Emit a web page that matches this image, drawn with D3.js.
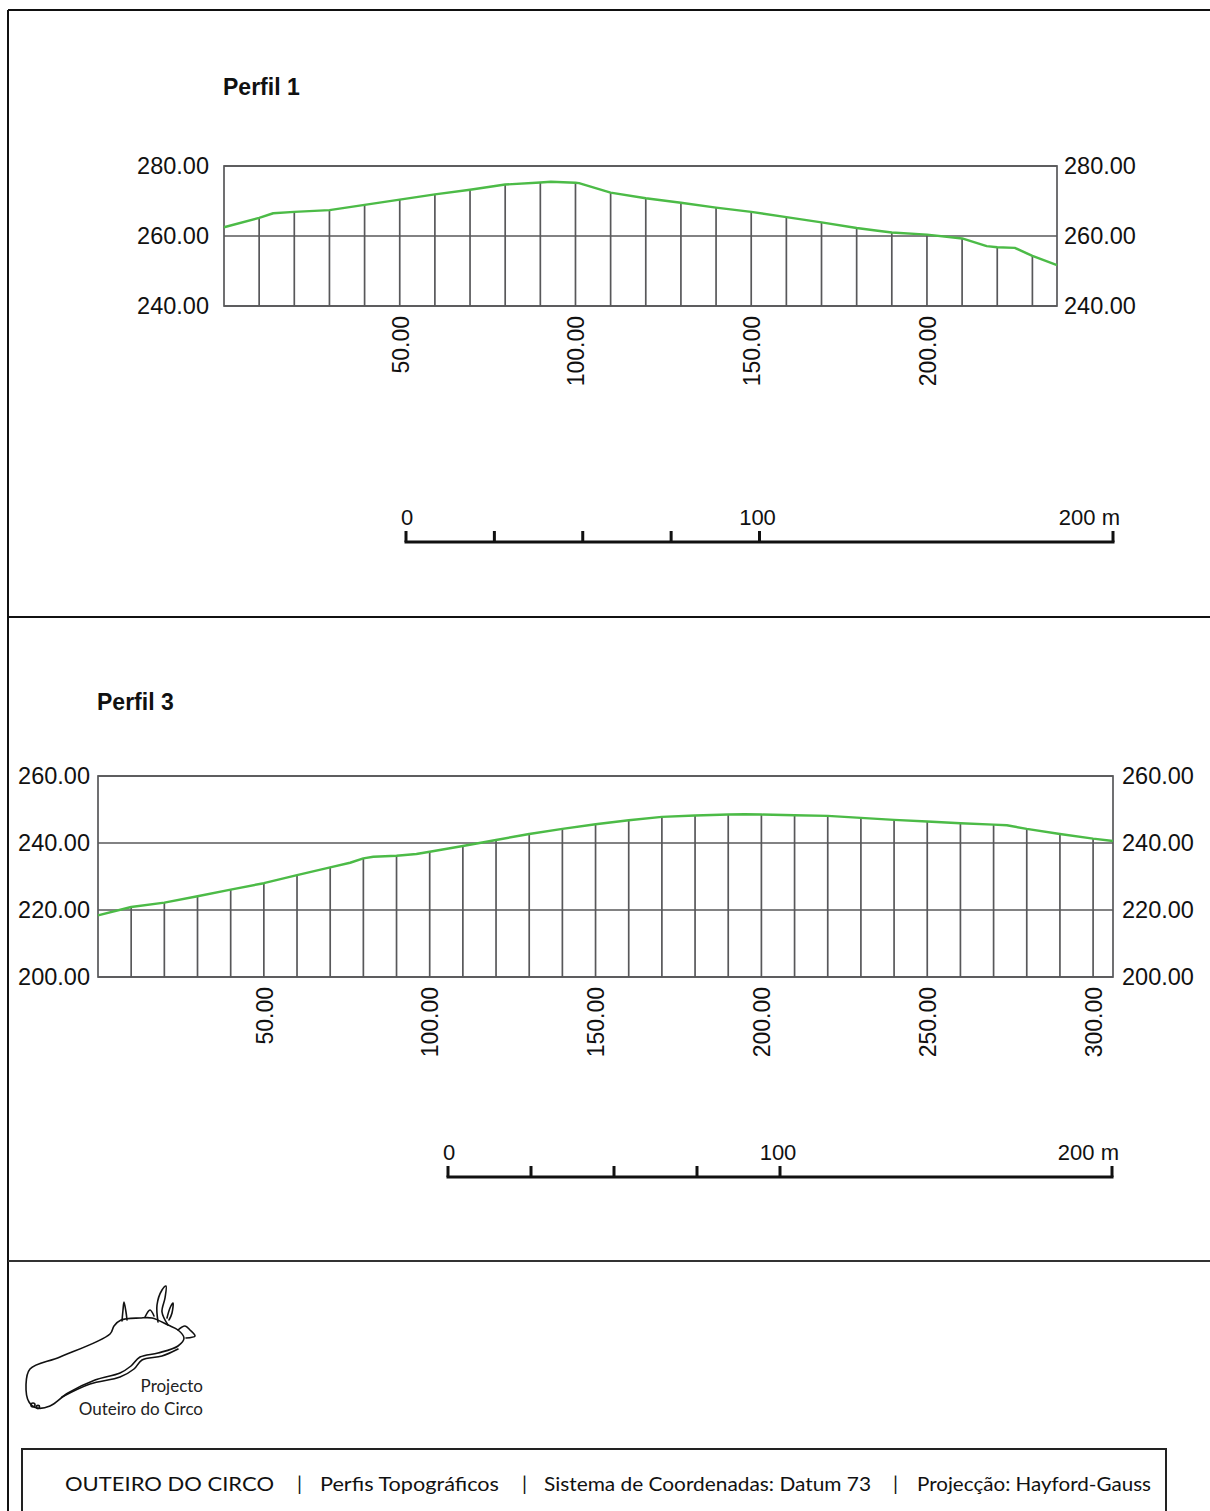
<!DOCTYPE html>
<html>
<head>
<meta charset="utf-8">
<script src="https://cdn.jsdelivr.net/npm/d3@7"></script>
<style>
  body { margin: 0; background: #fff; }
  svg { display: block; }
</style>
</head>
<body>
<div id="graphic"></div>
<script>
// Perfil 1: distance along profile (m) and elevation (m)
let p1Dist = [0, 10, 14, 20, 30, 40, 50, 60, 70, 80, 90, 93, 100, 101, 110, 120, 130, 140, 150, 160, 170, 180, 186, 190, 200, 210, 217, 220, 225, 230, 237];
let p1Elev = [262.5, 265.2, 266.5, 266.9, 267.4, 268.9, 270.4, 271.9, 273.2, 274.7, 275.3, 275.5, 275.2, 275.1, 272.4, 270.8, 269.5, 268.1, 266.9, 265.4, 263.9, 262.3, 261.5, 261.0, 260.4, 259.3, 257.1, 256.8, 256.6, 254.3, 251.7];
let p1YTicks = [240, 260, 280];
let p1XTicks = [50, 100, 150, 200];

// Perfil 3
let p3Dist = [0, 10, 20, 30, 40, 50, 60, 70, 76, 80, 83, 90, 96, 100, 110, 120, 130, 140, 150, 160, 170, 180, 190, 195, 200, 210, 220, 230, 240, 250, 260, 270, 274, 280, 290, 300, 306];
let p3Elev = [218.4, 220.9, 222.2, 224.1, 226.1, 228.0, 230.4, 232.7, 234.1, 235.4, 235.9, 236.2, 236.7, 237.4, 239.1, 240.9, 242.7, 244.2, 245.6, 246.8, 247.8, 248.2, 248.5, 248.6, 248.5, 248.3, 248.1, 247.5, 246.9, 246.4, 245.9, 245.5, 245.3, 244.2, 242.7, 241.3, 240.6];
let p3YTicks = [200, 220, 240, 260];
let p3XTicks = [50, 100, 150, 200, 250, 300];

// graphic scale bar (metres)
let barTicks = [0, 25, 50, 75, 100, 200];
let barLabels = [0, 100, 200];

let footerParts = ["OUTEIRO DO CIRCO", "|", "Perfis  Topográficos", "|", "Sistema de Coordenadas: Datum 73", "|", "Projecção: Hayford-Gauss"];

let svg = d3.select("#graphic")
  .append("svg")
    .attr("width", 1210)
    .attr("height", 1511);

let ink = "#111";
let gridCol = "#58585a";
let green = "#4cbb47";
let chartFont = "'Liberation Sans', Arial, Helvetica, sans-serif";
let humanFont = "Lato, 'Open Sans', sans-serif";

// page frame
let frame = svg.append("g").attr("stroke", ink).attr("stroke-width", 2);
frame.append("line").attr("x1", 8).attr("y1", 10).attr("x2", 8).attr("y2", 1511);
frame.append("line").attr("x1", 8).attr("y1", 10).attr("x2", 1210).attr("y2", 10);
frame.append("line").attr("x1", 8).attr("y1", 617).attr("x2", 1210).attr("y2", 617);
frame.append("line").attr("x1", 8).attr("y1", 1261).attr("x2", 1210).attr("y2", 1261).attr("stroke", "#333");

function drawProfile(o) {
  let maxD = d3.max(o.dist);
  let x = d3.scaleLinear().domain([0, maxD]).range([o.left, o.right]);
  let y = d3.scaleLinear().domain(d3.extent(o.yTicks)).range([o.bottom, o.top]);
  let data = o.dist.map((d, i) => ({d: d, e: o.elev[i]}));
  let g = svg.append("g");

  g.append("text")
    .attr("x", o.left - 1)
    .attr("y", o.titleY)
    .style("font", "bold 23px " + chartFont)
    .attr("fill", ink)
    .text(o.title);

  // horizontal reference lines inside the box
  g.selectAll(".hgrid")
    .data(o.yTicks)
    .enter()
    .append("line")
      .attr("x1", x(0)).attr("x2", x(maxD))
      .attr("y1", d => y(d)).attr("y2", d => y(d))
      .attr("stroke", gridCol).attr("stroke-width", 1.7);

  // station verticals, every 10 m, from the base to the ground line
  g.selectAll(".station")
    .data(data.filter(p => p.d % 10 === 0 && p.d > 0))
    .enter()
    .append("line")
      .attr("x1", p => x(p.d)).attr("x2", p => x(p.d))
      .attr("y1", y.range()[0]).attr("y2", p => y(p.e))
      .attr("stroke", gridCol).attr("stroke-width", 1.7);

  // box
  g.append("rect")
    .attr("x", x(0)).attr("y", y.range()[1])
    .attr("width", x(maxD) - x(0))
    .attr("height", y.range()[0] - y.range()[1])
    .attr("fill", "none")
    .attr("stroke", gridCol).attr("stroke-width", 1.7);

  // ground profile
  g.append("path")
    .datum(data)
    .attr("fill", "none")
    .attr("stroke", green)
    .attr("stroke-width", 2.4)
    .attr("stroke-linejoin", "round")
    .attr("d", d3.line().x(p => x(p.d)).y(p => y(p.e)));

  // elevation labels both sides
  let fmt = d3.format(".2f");
  let left = g.append("g")
    .attr("transform", "translate(" + x(0) + ",0)")
    .call(d3.axisLeft(y).tickValues(o.yTicks).tickFormat(fmt).tickSize(0).tickPadding(o.padL));
  let right = g.append("g")
    .attr("transform", "translate(" + x(maxD) + ",0)")
    .call(d3.axisRight(y).tickValues(o.yTicks).tickFormat(fmt).tickSize(0).tickPadding(o.padR));
  [left, right].forEach(a => {
    a.select(".domain").remove();
    a.selectAll("text").style("font", "23.5px " + chartFont).attr("fill", ink);
  });

  // distance labels, rotated
  let bottom = g.append("g")
    .attr("transform", "translate(0," + o.bottom + ")")
    .call(d3.axisBottom(x).tickValues(o.xTicks).tickFormat(fmt).tickSize(0));
  bottom.select(".domain").remove();
  bottom.selectAll("text")
    .attr("transform", "rotate(-90)")
    .attr("x", -10)
    .attr("y", 0)
    .attr("dy", "0.36em")
    .style("text-anchor", "end")
    .style("font", "23px " + chartFont)
    .attr("fill", ink);
}

function drawScaleBar(o) {
  let s = d3.scaleLinear().domain([0, 200]).range([o.x0, o.x1]);
  let g = svg.append("g").attr("stroke", ink).attr("stroke-width", 3);
  g.append("line")
    .attr("x1", s(0) - 1.5).attr("x2", s(200) + 1.5)
    .attr("y1", o.y).attr("y2", o.y);
  g.selectAll(".tick")
    .data(barTicks)
    .enter()
    .append("line")
      .attr("x1", d => s(d)).attr("x2", d => s(d))
      .attr("y1", o.y).attr("y2", o.y - 11);
  svg.append("g")
    .selectAll("text")
    .data(barLabels)
    .enter()
    .append("text")
      .attr("x", d => d === 200 ? s(d) + 7 : s(d) + (d === 0 ? 1 : -2))
      .attr("y", o.y - 17)
      .style("text-anchor", d => d === 200 ? "end" : "middle")
      .style("font", "22px " + chartFont)
      .attr("fill", ink)
      .text(d => d === 200 ? d + " m" : d);
}

drawProfile({title: "Perfil 1", titleY: 95, dist: p1Dist, elev: p1Elev, yTicks: p1YTicks, xTicks: p1XTicks,
  left: 224, right: 1057, top: 166, bottom: 306, padL: 15, padR: 7});
drawProfile({title: "Perfil 3", titleY: 710, dist: p3Dist, elev: p3Elev, yTicks: p3YTicks, xTicks: p3XTicks,
  left: 98, right: 1113, top: 776, bottom: 977, padL: 8, padR: 9});

drawScaleBar({x0: 406, x1: 1113, y: 542});
drawScaleBar({x0: 448, x1: 1112, y: 1177});

// logo: hand-drawn outline of the site
let logo = svg.append("g").attr("fill", "none").attr("stroke", ink).attr("stroke-width", 1.6)
  .attr("stroke-linecap", "round").attr("stroke-linejoin", "round");
let body = [[30, 1369], [60, 1357], [110, 1334], [114, 1326], [121, 1320], [140, 1318], [152, 1318], [168, 1325], [178, 1330],
  [184, 1338], [178, 1346], [158, 1353], [140, 1357], [131, 1366], [120, 1373], [95, 1380], [68, 1393], [50, 1406], [37, 1408],
  [29, 1402], [26, 1385]];
logo.append("path").attr("d", d3.line().curve(d3.curveCatmullRomClosed)(body));
logo.append("path").attr("d", d3.line().curve(d3.curveCatmullRom)([[62, 1397], [90, 1384], [120, 1377], [134, 1369], [142, 1360], [162, 1356], [178, 1349]]));
logo.append("path").attr("d", d3.line().curve(d3.curveCatmullRom)([[122, 1321], [123, 1310], [124, 1302], [126, 1312], [127, 1320]]));
logo.append("path").attr("d", d3.line().curve(d3.curveCatmullRom)([[158, 1322], [157, 1305], [162, 1290], [166, 1286], [165, 1298], [162, 1312], [168, 1325]]));
logo.append("path").attr("d", d3.line().curve(d3.curveCatmullRom)([[167, 1318], [170, 1308], [173, 1303], [172, 1313], [169, 1320]]));
logo.append("path").attr("d", d3.line().curve(d3.curveCatmullRom)([[178, 1330], [185, 1326], [190, 1330], [195, 1336], [186, 1338]]));
logo.append("path").attr("d", d3.line().curve(d3.curveCatmullRom)([[145, 1317], [150, 1310], [154, 1316]]));
logo.append("circle").attr("cx", 33).attr("cy", 1405).attr("r", 2);
logo.append("circle").attr("cx", 38).attr("cy", 1407).attr("r", 1.6);

svg.append("text").attr("x", 203).attr("y", 1392).style("text-anchor", "end")
  .style("font", "17px " + humanFont).attr("fill", "#222").text("Projecto");
svg.append("text").attr("x", 203).attr("y", 1415).style("text-anchor", "end")
  .style("font", "17px " + humanFont).attr("fill", "#222").text("Outeiro do Circo");

// footer box
svg.append("path")
  .attr("d", "M22,1511V1449H1166V1511")
  .attr("fill", "none").attr("stroke", "#222").attr("stroke-width", 2);

let footerX = [65, 297, 320, 522, 544, 893, 917];
let footerEnd = [274, 299, 499, 524, 871, 895, 1151];
svg.append("g")
  .selectAll("text")
  .data(footerParts)
  .enter()
  .append("text")
    .attr("x", (d, i) => footerX[i])
    .attr("y", 1491)
    .attr("textLength", (d, i) => d === "|" ? null : footerEnd[i] - footerX[i])
    .attr("lengthAdjust", "spacingAndGlyphs")
    .style("font", "20px " + humanFont)
    .attr("fill", ink)
    .text(d => d);
</script>
</body>
</html>
